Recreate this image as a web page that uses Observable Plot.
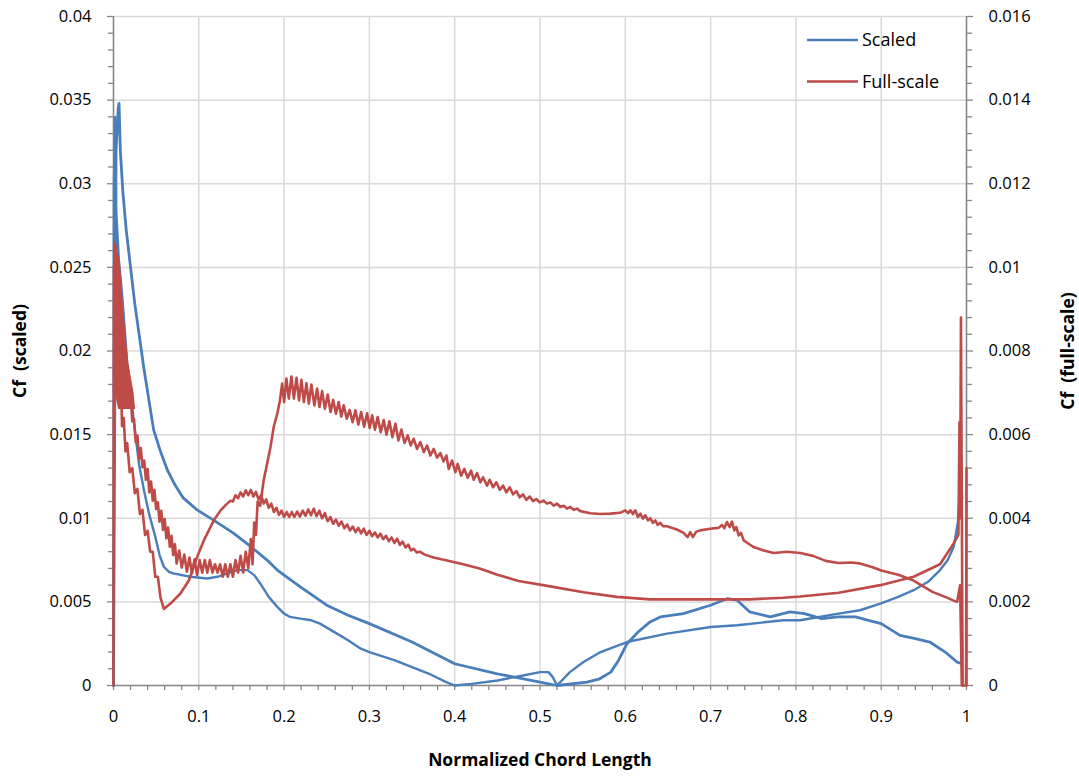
<!DOCTYPE html>
<html>
<head>
<meta charset="utf-8">
<script src="https://cdn.jsdelivr.net/npm/d3@7"></script>
<script src="https://cdn.jsdelivr.net/npm/@observablehq/plot@0.6"></script>
<style>
  html, body { margin: 0; padding: 0; background: #fff; }
  #wrap { position: relative; width: 1079px; height: 778px; font-family: 'Open Sans', sans-serif; }
  #legend { position: absolute; left: 800px; top: 22px; width: 180px; height: 80px; }
</style>
</head>
<body>
<div id="wrap"></div>
<script>
// ---------- tick labels ----------
const xTicks = [0, 0.1, 0.2, 0.3, 0.4, 0.5, 0.6, 0.7, 0.8, 0.9, 1];
const xTickLabels = ["0", "0.1", "0.2", "0.3", "0.4", "0.5", "0.6", "0.7", "0.8", "0.9", "1"];
const yTicks = [0, 0.005, 0.01, 0.015, 0.02, 0.025, 0.03, 0.035, 0.04];
const yTickLabels = ["0", "0.005", "0.01", "0.015", "0.02", "0.025", "0.03", "0.035", "0.04"];
const yRightLabels = ["0", "0.002", "0.004", "0.006", "0.008", "0.01", "0.012", "0.014", "0.016"];
const rightToLeft = 2.5; // 0.016 (right axis) aligns with 0.04 (left axis)

const seriesNames = ["Scaled", "Full-scale"];
const seriesColors = ["#4a7ebb", "#be4b48"];

// ---------- Scaled (left axis) : two surface curves [x, Cf] ----------
const scaledA = [
  [0, 0], [0.003, 0.032], [0.0055, 0.0345], [0.0065, 0.0348], [0.008, 0.032], [0.011, 0.0295],
  [0.015, 0.0272], [0.02, 0.025], [0.025, 0.0228], [0.03, 0.021], [0.0355, 0.019], [0.0414, 0.0171],
  [0.047, 0.0153], [0.055, 0.014], [0.063, 0.0129], [0.072, 0.012], [0.082, 0.0112],
  [0.098, 0.0105], [0.12, 0.0098], [0.141, 0.0091], [0.161, 0.0083], [0.18, 0.0075],
  [0.192, 0.0069], [0.219, 0.0059], [0.25, 0.0048], [0.275, 0.0042], [0.3, 0.0037],
  [0.35, 0.0026], [0.4, 0.0013], [0.45, 0.0007], [0.5, 0.0002], [0.52, 0.0],
  [0.555, 0.0002], [0.57, 0.0004], [0.583, 0.0008], [0.592, 0.0015], [0.602, 0.0025],
  [0.615, 0.0032], [0.629, 0.0038], [0.641, 0.0041], [0.668, 0.0043], [0.70, 0.0048],
  [0.72, 0.0052], [0.731, 0.0051], [0.746, 0.0044], [0.77, 0.0041], [0.793, 0.0044],
  [0.81, 0.0043], [0.83, 0.004], [0.85, 0.0041], [0.87, 0.0041], [0.885, 0.0039],
  [0.9, 0.0037], [0.922, 0.003], [0.94, 0.0028], [0.957, 0.0026], [0.975, 0.002],
  [0.989, 0.0014], [0.995, 0.0013]
];
const scaledB = [
  [0, 0], [0.0005, 0.03], [0.002, 0.034], [0.0025, 0.031], [0.003, 0.0285], [0.0062, 0.0255],
  [0.0102, 0.0233], [0.0133, 0.0212], [0.016, 0.0193], [0.0195, 0.0179], [0.024, 0.0157],
  [0.03, 0.0132], [0.036, 0.0116], [0.042, 0.0102], [0.049, 0.0089], [0.054, 0.0078],
  [0.059, 0.0071], [0.065, 0.0068], [0.07, 0.0067], [0.09, 0.0065], [0.11, 0.0064],
  [0.122, 0.0065], [0.133, 0.0067], [0.145, 0.0069], [0.157, 0.0069], [0.165, 0.0066],
  [0.172, 0.0061], [0.182, 0.0053], [0.192, 0.0047], [0.2, 0.0043], [0.207, 0.0041],
  [0.219, 0.004], [0.232, 0.0039], [0.242, 0.0037], [0.252, 0.0034], [0.262, 0.0031],
  [0.275, 0.0027], [0.29, 0.0022], [0.3, 0.002], [0.33, 0.0015], [0.35, 0.0011],
  [0.37, 0.0007], [0.39, 0.0002], [0.4, 0.0], [0.42, 0.0001], [0.45, 0.0003],
  [0.48, 0.0006], [0.5, 0.0008], [0.51, 0.0008], [0.515, 0.0005], [0.52, 0.0],
  [0.535, 0.0008], [0.551, 0.0014], [0.571, 0.002], [0.602, 0.0026], [0.649, 0.0031],
  [0.70, 0.0035], [0.731, 0.0036], [0.785, 0.0039], [0.805, 0.0039], [0.85, 0.0043],
  [0.875, 0.0045], [0.899, 0.0049], [0.92, 0.0053], [0.938, 0.0057], [0.955, 0.0062],
  [0.969, 0.0069], [0.978, 0.0075], [0.985, 0.0083], [0.99, 0.0098], [0.993, 0.0123],
  [0.995, 0.0112]
];

// ---------- Full-scale (right axis) ----------
// dense leading-edge band: [Cf, xLeft, xRight]
const fullLeadingBand = [
  [0.0106, 0.0005, 0.003], [0.0104, 0.0, 0.005], [0.0101, 0.0, 0.0082], [0.0093, 0.0, 0.0109],
  [0.0085, 0.0, 0.0141], [0.0077, 0.0, 0.018], [0.0070, 0.002, 0.024], [0.0066, 0.006, 0.026]
];
const fullA = [
  [0.020, 0.00698], [0.022, 0.00632], [0.024, 0.00638], [0.026, 0.00582], [0.028, 0.00598],
  [0.030, 0.00542], [0.032, 0.00568], [0.034, 0.00522], [0.036, 0.00538], [0.038, 0.00492],
  [0.040, 0.00518], [0.042, 0.00462], [0.044, 0.00488], [0.046, 0.00442], [0.048, 0.00468],
  [0.050, 0.00422], [0.052, 0.00438], [0.054, 0.00392], [0.056, 0.00418], [0.058, 0.00372],
  [0.060, 0.00398], [0.062, 0.00352], [0.064, 0.00378], [0.066, 0.00332], [0.068, 0.00358],
  [0.070, 0.00312], [0.072, 0.00338], [0.074, 0.00292], [0.077, 0.00323], [0.080, 0.00282],
  [0.083, 0.00313], [0.086, 0.00272], [0.089, 0.00306], [0.092, 0.00268], [0.095, 0.00302],
  [0.098, 0.00264], [0.101, 0.0030], [0.104, 0.0027], [0.107, 0.0030], [0.110, 0.0027],
  [0.113, 0.0030], [0.116, 0.0027], [0.119, 0.0029], [0.122, 0.0027], [0.125, 0.0029],
  [0.128, 0.0026], [0.131, 0.0029], [0.134, 0.0026], [0.137, 0.0029], [0.140, 0.0026],
  [0.143, 0.0030], [0.146, 0.0027], [0.149, 0.0031], [0.152, 0.0027], [0.155, 0.0032],
  [0.158, 0.0028], [0.161, 0.0035], [0.163, 0.0029], [0.165, 0.0039], [0.167, 0.0036],
  [0.169, 0.0044], [0.172, 0.0043], [0.176, 0.0049], [0.180, 0.0053], [0.184, 0.0057],
  [0.188, 0.0062], [0.192, 0.0065], [0.195, 0.0068],
  [0.1977, 0.00722], [0.2000, 0.00678], [0.2027, 0.00734], [0.2055, 0.00686], [0.2086, 0.00739],
  [0.2115, 0.00686], [0.2145, 0.00736], [0.2175, 0.00682], [0.2203, 0.00731], [0.2232, 0.00678],
  [0.2262, 0.00723], [0.2290, 0.00674], [0.2320, 0.00720], [0.2355, 0.00670], [0.2387, 0.00710],
  [0.2415, 0.00666], [0.2446, 0.00704], [0.2478, 0.00662], [0.2511, 0.00696], [0.2545, 0.00654],
  [0.2575, 0.00683], [0.2608, 0.00650], [0.2640, 0.00678], [0.2670, 0.00643], [0.2699, 0.00670],
  [0.2735, 0.00638], [0.2769, 0.00659], [0.2803, 0.00630], [0.2836, 0.00658], [0.2870, 0.00624],
  [0.2903, 0.00654], [0.2938, 0.00619], [0.2973, 0.00651], [0.3003, 0.00616], [0.3032, 0.00646],
  [0.3065, 0.00612], [0.3097, 0.00642], [0.3133, 0.00606], [0.3168, 0.00635], [0.3200, 0.00600],
  [0.3234, 0.00632], [0.3270, 0.00594], [0.3305, 0.00626], [0.3340, 0.00586], [0.3375, 0.00612],
  [0.3412, 0.00580], [0.3449, 0.00598], [0.3484, 0.00574], [0.3519, 0.00590], [0.3558, 0.00566],
  [0.3598, 0.00582], [0.3637, 0.00558], [0.3676, 0.00574], [0.3715, 0.00550], [0.3754, 0.00566],
  [0.3793, 0.00545], [0.3832, 0.00556], [0.3868, 0.00536], [0.3903, 0.00550], [0.3930, 0.00518],
  [0.3969, 0.00538], [0.4008, 0.00510], [0.4035, 0.00530], [0.4075, 0.00502], [0.4113, 0.00518],
  [0.4152, 0.00497], [0.4192, 0.00514], [0.4223, 0.00492], [0.4262, 0.00508], [0.4301, 0.00486],
  [0.4332, 0.00498], [0.4379, 0.00478], [0.4410, 0.00492], [0.4449, 0.00474], [0.4488, 0.00486],
  [0.4528, 0.00468], [0.4567, 0.00478], [0.4606, 0.00462], [0.4645, 0.00474], [0.4684, 0.00457],
  [0.4723, 0.00465], [0.4762, 0.00450], [0.4801, 0.00457], [0.4840, 0.00444], [0.4879, 0.00452],
  [0.4918, 0.00441], [0.4957, 0.00446], [0.4996, 0.00438], [0.5043, 0.00442], [0.5082, 0.00435],
  [0.5121, 0.00438], [0.5160, 0.00430], [0.5200, 0.00435], [0.5239, 0.00427], [0.5278, 0.00430],
  [0.5317, 0.00423], [0.5356, 0.00427], [0.5395, 0.00420], [0.5434, 0.00423], [0.5473, 0.00417],
  [0.559, 0.00412], [0.5707, 0.00410], [0.5824, 0.00411], [0.594, 0.00413],
  [0.6000, 0.00419], [0.6032, 0.00412], [0.6059, 0.00419], [0.6089, 0.00410], [0.6117, 0.00419],
  [0.6148, 0.00403], [0.6176, 0.00411], [0.6207, 0.00399], [0.6235, 0.00407], [0.6266, 0.00395],
  [0.6293, 0.00400], [0.6324, 0.00389], [0.6352, 0.00395], [0.6379, 0.00384], [0.6410, 0.00389],
  [0.6442, 0.00381], [0.6488, 0.00381], [0.6605, 0.00373], [0.6684, 0.00365], [0.6730, 0.00355],
  [0.6762, 0.00367], [0.6793, 0.00355], [0.6832, 0.00368], [0.6879, 0.00371], [0.6996, 0.00375],
  [0.7094, 0.00377], [0.7133, 0.00384], [0.7161, 0.00376], [0.7192, 0.00391], [0.7224, 0.00379],
  [0.7251, 0.00392], [0.7278, 0.00371], [0.7302, 0.00379], [0.7329, 0.00359], [0.7356, 0.00365],
  [0.7388, 0.00347], [0.7446, 0.00339], [0.7505, 0.00331], [0.7622, 0.00323], [0.7739, 0.00317],
  [0.7896, 0.00320], [0.8052, 0.00317], [0.82, 0.00310], [0.835, 0.00298], [0.85, 0.00293],
  [0.865, 0.00294], [0.875, 0.00292], [0.89, 0.00283], [0.9, 0.00275], [0.92, 0.00265],
  [0.938, 0.00251], [0.96, 0.00224], [0.975, 0.00212], [0.985, 0.00203], [0.989, 0.00200],
  [0.9925, 0.00240], [0.9945, 0.0], [0.9995, 0.0], [1.0, 0.0052], [1.0, 0.0]
];
const fullB = [
  [0, 0], [0.0005, 0.0100], [0.003, 0.0104],
  [0.005, 0.0088], [0.006, 0.0094], [0.007, 0.0074], [0.008, 0.0080], [0.010, 0.0062],
  [0.012, 0.0064], [0.014, 0.0056], [0.016, 0.0058], [0.019, 0.0051], [0.022, 0.0052],
  [0.025, 0.0046], [0.028, 0.0047], [0.031, 0.0041], [0.034, 0.0042], [0.037, 0.0036],
  [0.040, 0.0037], [0.043, 0.0032], [0.046, 0.0032], [0.049, 0.0026], [0.052, 0.0026],
  [0.0551, 0.0021], [0.059, 0.00183], [0.0668, 0.00196], [0.0785, 0.0022], [0.0883, 0.00251],
  [0.098, 0.00307], [0.1059, 0.00347], [0.1176, 0.00395], [0.1260, 0.00420], [0.1332, 0.00435],
  [0.1371, 0.00442], [0.1400, 0.00440], [0.1430, 0.00455], [0.1460, 0.00448], [0.1490, 0.00462],
  [0.1520, 0.00452], [0.1550, 0.00467], [0.1580, 0.00455], [0.1610, 0.00468], [0.1640, 0.00452],
  [0.1670, 0.00463], [0.1700, 0.00445], [0.1730, 0.00455], [0.1762, 0.00435], [0.1790, 0.00445],
  [0.1820, 0.00425], [0.1850, 0.00435], [0.1880, 0.00415], [0.1910, 0.00425], [0.1940, 0.00408],
  [0.1970, 0.00418], [0.2000, 0.00403], [0.2030, 0.00415], [0.2060, 0.00403], [0.2090, 0.00415],
  [0.2120, 0.00403], [0.2153, 0.00416], [0.2185, 0.00404], [0.2218, 0.00418], [0.2250, 0.00406],
  [0.2283, 0.00421], [0.2315, 0.00407], [0.2348, 0.00423], [0.2380, 0.00405], [0.2413, 0.00418],
  [0.2445, 0.00400], [0.2478, 0.00412], [0.2510, 0.00393], [0.2543, 0.00403], [0.2575, 0.00387],
  [0.2608, 0.00397], [0.2640, 0.00382], [0.2673, 0.00392], [0.2706, 0.00376], [0.2739, 0.00385],
  [0.2772, 0.00371], [0.2805, 0.00380], [0.2838, 0.00367], [0.2870, 0.00377], [0.2903, 0.00364],
  [0.2934, 0.00375], [0.2966, 0.00360], [0.3000, 0.00370], [0.3032, 0.00357], [0.3065, 0.00366],
  [0.3097, 0.00354], [0.3129, 0.00363], [0.3162, 0.00350], [0.3195, 0.00358], [0.3228, 0.00345],
  [0.3260, 0.00354], [0.3293, 0.00341], [0.3325, 0.00351], [0.3358, 0.00336], [0.3390, 0.00344],
  [0.3423, 0.00330], [0.3455, 0.00337], [0.3488, 0.00323], [0.3520, 0.00327], [0.3555, 0.00318],
  [0.3590, 0.00320], [0.3650, 0.00313], [0.3750, 0.00306], [0.3911, 0.00299], [0.4100, 0.00290],
  [0.4301, 0.00279], [0.4500, 0.00265], [0.4750, 0.00250], [0.512, 0.00237], [0.551, 0.00223],
  [0.590, 0.00212], [0.629, 0.00206], [0.668, 0.00206], [0.707, 0.00206], [0.746, 0.00206],
  [0.785, 0.0021], [0.805, 0.00213], [0.85, 0.00222], [0.899, 0.0024], [0.938, 0.0026],
  [0.969, 0.0029], [0.985, 0.0034], [0.9905, 0.0036], [0.9918, 0.0063], [0.9925, 0.0040],
  [0.9935, 0.0088], [0.9955, 0.0]
];

// ---------- titles ----------
const xTitle = "Normalized Chord Length";
const yTitleLeft = "Cf\u00a0 (scaled)";
const yTitleRight = "Cf\u00a0 (full-scale)";

// ---------- derived ----------
const minorX = d3.range(0, 51).map(i => i / 50).filter((d, i) => i % 5 !== 0);
const minorY = d3.range(0, 41).map(i => i / 1000).filter((d, i) => i % 5 !== 0);
const axisColor = "#868686";
const gridColor = "#d9d9d9";
const fmtIdx = (arr, labels) => d => { const i = arr.findIndex(v => Math.abs(v - d) < 1e-9); return i < 0 ? "" : labels[i]; };

const chart = Plot.plot({
  width: 1079,
  height: 778,
  marginLeft: 113,
  marginRight: 113,
  marginTop: 16,
  marginBottom: 93,
  x: { domain: [0, 1] },
  y: { domain: [0, 0.04] },
  style: { fontFamily: "'Open Sans', sans-serif", fontSize: "16.5px", color: "#000", background: "#fff", overflow: "visible" },
  marks: [
    Plot.gridX(xTicks.slice(1, -1), { stroke: gridColor, strokeOpacity: 1, strokeWidth: 1.5 }),
    Plot.gridY(yTicks.slice(1), { stroke: gridColor, strokeOpacity: 1, strokeWidth: 1.5 }),
    // left axis
    Plot.axisY(minorY, { anchor: "left", tickSize: 5, tickFormat: () => "", stroke: axisColor, strokeWidth: 1.3, label: null }),
    Plot.axisY(yTicks, { anchor: "left", tickSize: 6, tickPadding: 16, tickFormat: fmtIdx(yTicks, yTickLabels), stroke: axisColor, strokeWidth: 1.3, label: null }),
    // right axis
    Plot.axisY(minorY, { anchor: "right", tickSize: 5, tickFormat: () => "", stroke: axisColor, strokeWidth: 1.3, label: null }),
    Plot.axisY(yTicks, { anchor: "right", tickSize: 6, tickPadding: 16, tickFormat: fmtIdx(yTicks, yRightLabels), stroke: axisColor, strokeWidth: 1.3, label: null }),
    // bottom axis
    Plot.axisX(minorX, { anchor: "bottom", tickSize: 5, tickFormat: () => "", stroke: axisColor, strokeWidth: 1.3, label: null }),
    Plot.axisX(xTicks, { anchor: "bottom", tickSize: 5, tickPadding: 20, tickFormat: fmtIdx(xTicks, xTickLabels), stroke: axisColor, strokeWidth: 1.3, label: null }),
    Plot.ruleX([0, 1], { stroke: axisColor, strokeWidth: 1.6 }),
    Plot.ruleY([0], { stroke: axisColor, strokeWidth: 1.6 }),
    // series
    Plot.line(scaledA, { x: d => d[0], y: d => d[1], stroke: seriesColors[0], strokeWidth: 2.8 }),
    Plot.line(scaledB, { x: d => d[0], y: d => d[1], stroke: seriesColors[0], strokeWidth: 2.4 }),
    Plot.areaX(fullLeadingBand, { y: d => d[0] * rightToLeft, x1: d => d[1], x2: d => d[2], fill: seriesColors[1] }),
    Plot.line(fullA, { x: d => d[0], y: d => d[1] * rightToLeft, stroke: seriesColors[1], strokeWidth: 2.6 }),
    Plot.line(fullB, { x: d => d[0], y: d => d[1] * rightToLeft, stroke: seriesColors[1], strokeWidth: 2.6 }),
    // axis titles
    Plot.text([yTitleLeft], { frameAnchor: "left", dx: -93, rotate: -90, textAnchor: "middle", fontWeight: "bold", fontSize: 17.5 }),
    Plot.text([yTitleRight], { frameAnchor: "right", dx: 102, rotate: -90, textAnchor: "middle", fontWeight: "bold", fontSize: 17.5 }),
    Plot.text([xTitle], { frameAnchor: "bottom", dy: 80, fontWeight: "bold", fontSize: 17.5 })
  ]
});

const wrap = document.getElementById("wrap");
wrap.appendChild(chart);

// legend (top-right inside plot)
const legend = document.createElement("div");
legend.id = "legend";
const ns = "http://www.w3.org/2000/svg";
const lsvg = document.createElementNS(ns, "svg");
lsvg.setAttribute("width", 180);
lsvg.setAttribute("height", 80);
seriesNames.forEach((name, i) => {
  const yy = 18 + i * 41.5;
  const ln = document.createElementNS(ns, "line");
  ln.setAttribute("x1", 7); ln.setAttribute("x2", 58);
  ln.setAttribute("y1", yy); ln.setAttribute("y2", yy);
  ln.setAttribute("stroke", seriesColors[i]); ln.setAttribute("stroke-width", 2.3);
  lsvg.appendChild(ln);
  const tx = document.createElementNS(ns, "text");
  tx.setAttribute("x", 62); tx.setAttribute("y", yy);
  tx.setAttribute("dy", "0.35em");
  tx.setAttribute("font-family", "'Open Sans', sans-serif");
  tx.setAttribute("font-size", 18);
  tx.textContent = name;
  lsvg.appendChild(tx);
});
legend.appendChild(lsvg);
wrap.appendChild(legend);
</script>
</body>
</html>
